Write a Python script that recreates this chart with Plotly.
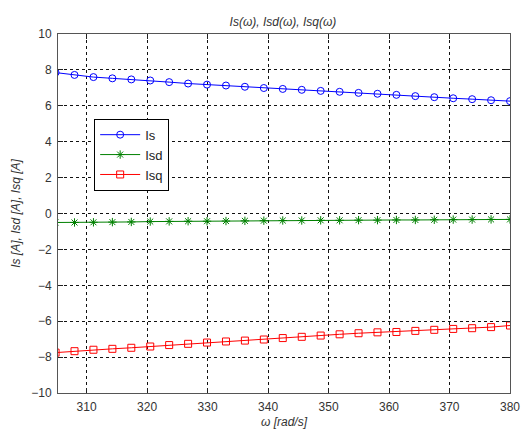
import plotly.graph_objects as go

omega = [304.87, 308.00, 311.13, 314.26, 317.39, 320.52, 323.65, 326.78, 329.91,
         333.04, 336.17, 339.30, 342.43, 345.57, 348.70, 351.83, 354.96, 358.09,
         361.22, 364.35, 367.48, 370.61, 373.74, 376.87, 380.00]
Is = [7.85, 7.72, 7.60, 7.53, 7.47, 7.41, 7.32, 7.24, 7.18, 7.13, 7.06, 6.99, 6.94,
      6.89, 6.83, 6.78, 6.72, 6.67, 6.61, 6.54, 6.48, 6.42, 6.37, 6.31, 6.26]
Isd = [-0.50, -0.50, -0.49, -0.48, -0.47, -0.45, -0.44, -0.43, -0.43, -0.42, -0.41,
       -0.40, -0.39, -0.39, -0.38, -0.38, -0.37, -0.37, -0.36, -0.36, -0.35, -0.34,
       -0.34, -0.33, -0.33]
Isq = [-7.75, -7.67, -7.59, -7.54, -7.48, -7.41, -7.33, -7.26, -7.19, -7.13, -7.08,
       -7.02, -6.94, -6.87, -6.80, -6.73, -6.67, -6.62, -6.60, -6.54, -6.48, -6.43,
       -6.39, -6.33, -6.24]

x_ticks = [310, 320, 330, 340, 350, 360, 370, 380]
y_ticks = [10, 8, 6, 4, 2, 0, -2, -4, -6, -8, -10]

FONT = "Liberation Sans, Arial, sans-serif"

fig = go.Figure()
fig.add_trace(go.Scatter(x=omega, y=Is, name="Is", mode="lines+markers",
                         line=dict(color="#0000ff", width=1),
                         marker=dict(symbol="circle-open", size=7, color="#0000ff",
                                     line=dict(width=1, color="#0000ff"))))
fig.add_trace(go.Scatter(x=omega, y=Isd, name="Isd", mode="lines+markers",
                         line=dict(color="#008000", width=1),
                         marker=dict(symbol="asterisk-open", size=7, color="#008000",
                                     line=dict(width=1, color="#008000"))))
fig.add_trace(go.Scatter(x=omega, y=Isq, name="Isq", mode="lines+markers",
                         line=dict(color="#ff0000", width=1),
                         marker=dict(symbol="square-open", size=7, color="#ff0000",
                                     line=dict(width=1, color="#ff0000"))))

axis_common = dict(
    showline=True, linecolor="#555555", linewidth=1, mirror="ticks",
    ticks="inside", ticklen=5, tickcolor="#222222",
    showgrid=True, gridcolor="#111111", gridwidth=1, griddash="3px,3px",
    zeroline=False, tickfont=dict(family=FONT, size=12, color="#333333"),
    automargin=False, ticklabelstandoff=3,
)

fig.update_xaxes(range=[305.27, 380], tickvals=x_ticks, **axis_common,
                 title=dict(text="<i>ω [rad/s]</i>", standoff=4,
                            font=dict(family=FONT, size=12, color="#333333")))
fig.update_yaxes(range=[-10, 10], tickvals=y_ticks, **axis_common,
                 title=dict(text="<i>Is [A], Isd [A], Isq [A]</i>", standoff=8,
                            font=dict(family=FONT, size=12, color="#333333")))

fig.update_layout(
    width=522, height=430,
    margin=dict(l=58, r=12, t=34, b=37),
    paper_bgcolor="white", plot_bgcolor="white",
    title=dict(text="<i>Is(ω), Isd(ω), Isq(ω)</i>", x=0.542, xanchor="center",
               y=1 - 22 / 430, yanchor="middle",
               font=dict(family=FONT, size=12, color="#333333")),
    legend=dict(x=0.08, y=0.764, xanchor="left", yanchor="top",
                bgcolor="white", bordercolor="#000000", borderwidth=1,
                font=dict(family=FONT, size=13, color="#222222"),
                itemwidth=40, tracegroupgap=0,
                entrywidth=80, entrywidthmode="pixels"),
    showlegend=True,
)

fig.write_html("out.html")
